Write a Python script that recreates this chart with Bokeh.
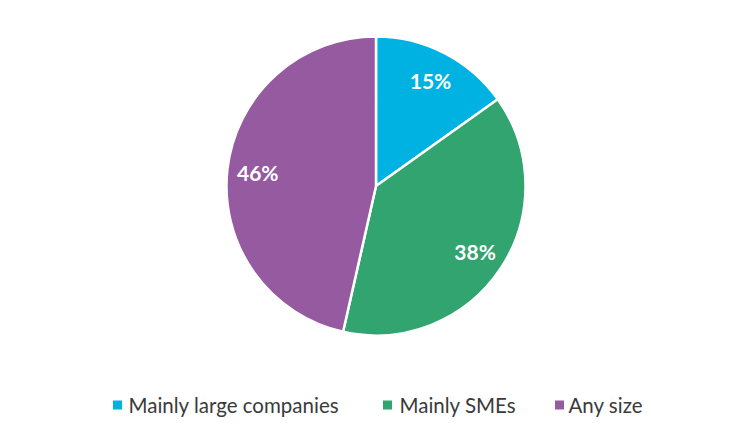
import math
from bokeh.plotting import figure
from bokeh.models import Range1d, ColumnDataSource
from bokeh.core.properties import value
from bokeh.embed import file_html
from bokeh.resources import INLINE

categories = ["Mainly large companies", "Mainly SMEs", "Any size"]
shares = [15, 38, 46]
labels = ["15%", "38%", "46%"]
colors = ["#00B2E2", "#31A46F", "#955AA0"]

W, H = 750, 423
p = figure(width=W, height=H, x_range=Range1d(0, W), y_range=Range1d(0, H),
           output_backend="svg", toolbar_location=None, min_border=0)
p.axis.visible = False
p.grid.visible = False
p.outline_line_color = None
p.background_fill_color = "white"
p.border_fill_color = "white"

cx, cy, r = 375.5, 237.5, 149.5
total = sum(shares)
starts, ends, lx, ly = [], [], [], []
cum = 0.0
for s in shares:
    a0 = math.pi / 2 - 2 * math.pi * cum / total
    cum += s
    a1 = math.pi / 2 - 2 * math.pi * cum / total
    starts.append(a1)
    ends.append(a0)
    mid = (a0 + a1) / 2
    lx.append(cx + 119 * math.cos(mid))
    ly.append(cy + 119 * math.sin(mid))

src = ColumnDataSource(dict(start=starts, end=ends, color=colors, cat=categories,
                            lx=lx, ly=ly, label=labels))
p.wedge(x=cx, y=cy, radius=r, start_angle="start", end_angle="end",
        direction="anticlock", fill_color="color", line_color="white",
        line_width=2.5, source=src)
p.text(x="lx", y="ly", text="label", source=src, text_color="white",
       text_font=value("Lato"), text_font_style="bold", text_font_size="21px",
       text_align="center", text_baseline="middle")

# legend
leg_sq_x = [117, 387, 559]
leg_tx = [128, 399, 568]
leg_y = 18.5
leg = ColumnDataSource(dict(x=leg_sq_x, tx=leg_tx, y=[leg_y] * 3,
                            color=colors, cat=categories))
p.rect(x="x", y="y", width=9, height=9, width_units="screen", height_units="screen",
       fill_color="color", line_color=None, source=leg)
p.text(x="tx", y="y", text="cat", source=leg, text_color="#3A3A3A",
       text_font=value("Lato"), text_font_size="20.5px",
       text_align="left", text_baseline="middle")

open("out.html", "w").write(file_html(p, INLINE))
